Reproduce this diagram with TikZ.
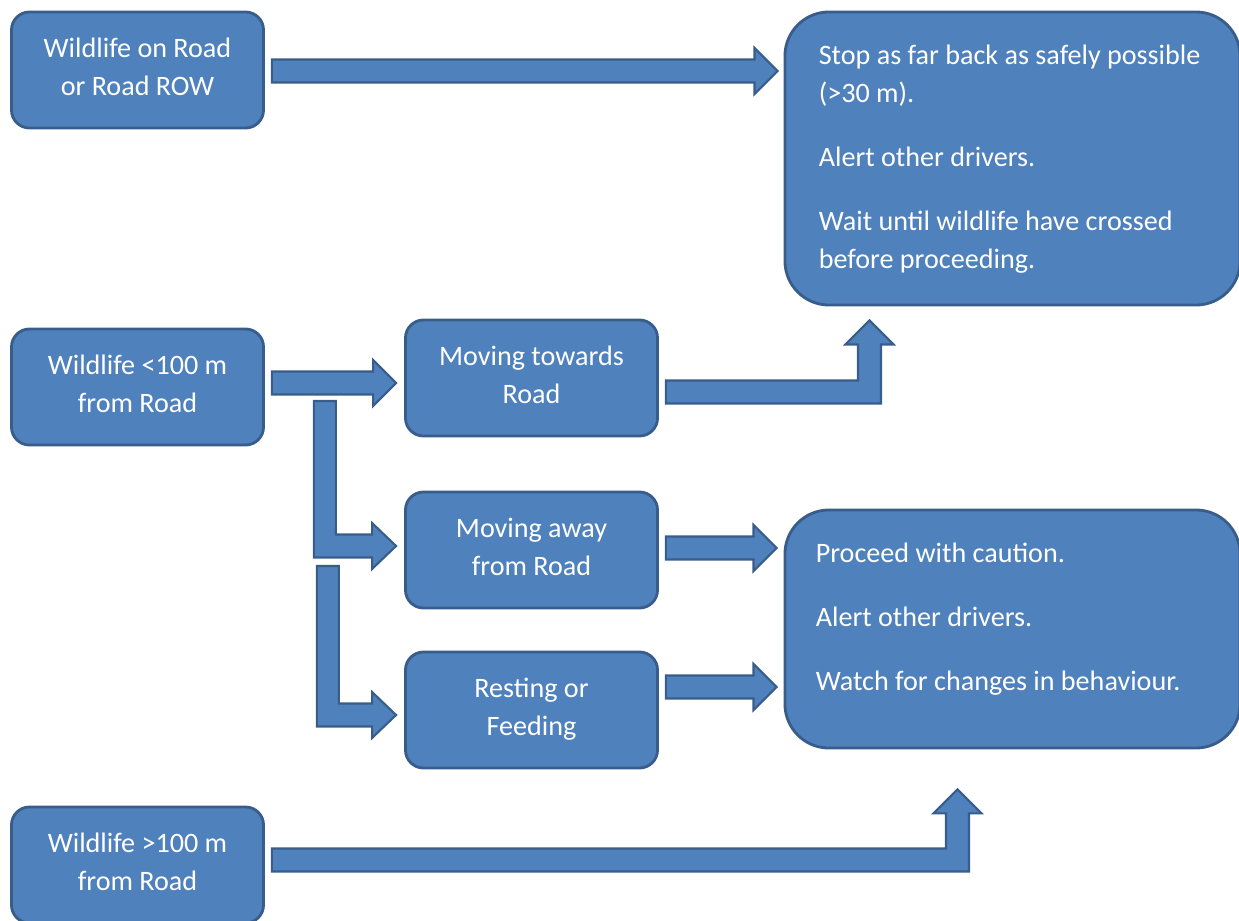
\documentclass[tikz,border=0pt]{standalone}
\usepackage{fontspec}
\setmainfont{Carlito}
\usetikzlibrary{calc}

\definecolor{boxblue}{HTML}{4F81BD}
\definecolor{boxedge}{HTML}{385D8A}

% block arrows, #1 = start of the shaft, #2 = tip (named coordinates)
\newcommand{\rightblock}[2]{%
  \draw[blockarrow] ($(#1)+(0,-11.5)$) -- ($(#2)+(-23,-11.5)$) -- ($(#2)+(-23,-23)$)
    -- (#2) -- ($(#2)+(-23,23)$) -- ($(#2)+(-23,11.5)$) -- ($(#1)+(0,11.5)$) -- cycle;}
\newcommand{\upblock}[2]{%
  \draw[blockarrow] ($(#1)+(0,-11.5)$) -- ($(#2 |- #1)+(-11.5,-11.5)$) -- ($(#2)+(-11.5,24)$)
    -- ($(#2)+(-24,24)$) -- (#2) -- ($(#2)+(24,24)$) -- ($(#2)+(11.5,24)$)
    -- ($(#2 |- #1)+(11.5,11.5)$) -- ($(#1)+(0,11.5)$) -- cycle;}
\newcommand{\downblock}[2]{%
  \draw[blockarrow] ($(#1)+(-11,0)$) -- ($(#1 |- #2)+(-11,11.5)$) -- ($(#2)+(-24,11.5)$)
    -- ($(#2)+(-24,23)$) -- (#2) -- ($(#2)+(-24,-23)$) -- ($(#2)+(-24,-11.5)$)
    -- ($(#1 |- #2)+(11,-11.5)$) -- ($(#1)+(11,0)$) -- cycle;}

\begin{document}
\begin{tikzpicture}[x=0.025cm,y=-0.025cm,
  smallbox/.style={draw=boxedge, fill=boxblue, line width=2pt, rounded corners=0.45cm,
    text=white, align=center, inner sep=0pt, text depth=5pt,
    minimum width=6.3cm, minimum height=2.9cm, font=\fontsize{20}{27}\selectfont},
  bigbox/.style={draw=boxedge, fill=boxblue, line width=2pt, rounded corners=1.1cm,
    minimum width=11.375cm},
  boxtext/.style={text=white, align=left, inner sep=0pt, font=\fontsize{20}{27}\selectfont},
  blockarrow/.style={draw=boxedge, fill=boxblue, line width=1.5pt, line join=miter}]
  \useasboundingbox (0,0) rectangle (1239,921);
  %% Left column
  \node[smallbox] (onroad) at (137.5,70) {Wildlife on Road\\or Road ROW};
  \node[smallbox] (near) at (137.5,387) {Wildlife <100 m\\from Road};
  \node[smallbox] (far) at (137.5,865) {Wildlife >100 m\\from Road};
  %% Middle column
  \node[smallbox] (towards) at (531.5,378) {Moving towards\\Road};
  \node[smallbox] (away) at (531.5,550) {Moving away\\from Road};
  \node[smallbox] (rest) at (531.5,710) {Resting or\\Feeding};
  %% Right column
  \node[bigbox, minimum height=7.325cm] (stop) at (1012.5,158.5) {};
  \node[boxtext, anchor=north west] (stoptext) at ($(stop.north west)+(35,34)$)
    {Stop as far back as safely possible\\(>30 m).\\[18.5pt]Alert other drivers.\\[18.5pt]%
     Wait until wildlife have crossed\\before proceeding.};
  \node[bigbox, minimum height=5.95cm] (proceed) at (1012.5,629) {};
  \node[boxtext, anchor=north west] (proceedtext) at ($(proceed.north west)+(32,34)$)
    {Proceed with caution.\\[18.5pt]Alert other drivers.\\[18.5pt]Watch for changes in behaviour.};
  %% Arrows
  \coordinate (a1s) at ($(onroad.east)+(7,1)$);
  \coordinate (a1t) at ($(a1s -| stop.west)+(-6,0)$);
  \rightblock{a1s}{a1t}
  \coordinate (a2s) at ($(near.east)+(7,-4)$);
  \coordinate (a2t) at ($(a2s -| towards.west)+(-8,0)$);
  \rightblock{a2s}{a2t}
  \coordinate (a3s) at ($(near.east)+(60,14)$);
  \coordinate (a3t) at ($(away.west)+(-8,-4)$);
  \downblock{a3s}{a3t}
  \coordinate (a4s) at ($(near.east)+(63,179)$);
  \coordinate (a4t) at ($(rest.west)+(-8,5)$);
  \downblock{a4s}{a4t}
  \coordinate (a5s) at ($(towards.east)+(7,14)$);
  \coordinate (a5t) at ($(stop.south west)+(86,14)$);
  \upblock{a5s}{a5t}
  \coordinate (a6s) at ($(away.east)+(7,-2)$);
  \coordinate (a6t) at ($(a6s -| proceed.west)+(-7,0)$);
  \rightblock{a6s}{a6t}
  \coordinate (a7s) at ($(rest.east)+(7,-23)$);
  \coordinate (a7t) at ($(a7s -| proceed.west)+(-7,0)$);
  \rightblock{a7s}{a7t}
  \coordinate (a8s) at ($(far.east)+(7,-5)$);
  \coordinate (a8t) at ($(proceed.south west)+(174,40)$);
  \upblock{a8s}{a8t}
\end{tikzpicture}
\end{document}
